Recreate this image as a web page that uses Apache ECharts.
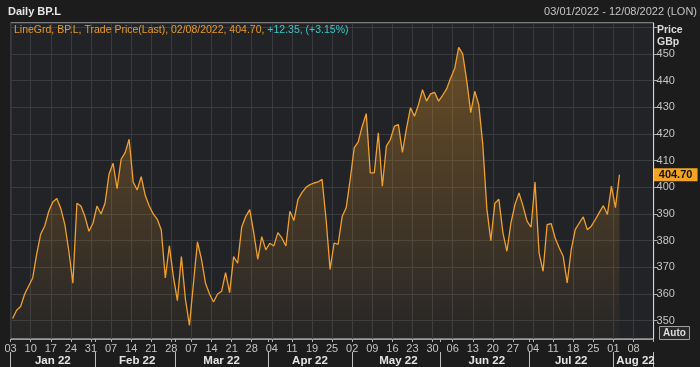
<!DOCTYPE html>
<html><head><meta charset="utf-8">
<script src="https://cdn.jsdelivr.net/npm/echarts@6/dist/echarts.min.js"></script>
<style>html,body{margin:0;padding:0;background:#1c1c1c;}#c{width:700px;height:367px;}</style>
</head><body><div id="c"></div>
<script>
// ---- data ----
const weekLabels = ['03','10','17','24','31','07','14','21','28','07','14','21','28','04','11','19','25','02','09','16','23','30','06','13','20','27','04','11','18','25','01','08'];
const monthLabels = ['Jan 22','Feb 22','Mar 22','Apr 22','May 22','Jun 22','Jul 22','Aug 22'];
const prices = [
350.8,353.9,355.3,360.0,363.0,366.0,375.0,382.5,385.5,391.0,
394.5,395.8,392.0,386.0,376.0,364.0,394.0,393.0,389.0,383.5,
386.5,393.0,390.0,394.0,405.0,409.0,399.5,410.5,413.0,418.0,
402.0,399.0,404.0,397.0,393.0,390.0,388.0,384.0,366.0,378.0,
366.5,357.5,374.0,358.0,348.2,364.0,379.5,373.0,364.0,360.0,
357.0,360.0,361.0,368.0,360.5,374.0,371.5,385.0,389.0,391.6,
383.0,373.0,381.5,376.5,379.0,378.0,383.0,381.0,378.0,391.0,
387.5,395.4,398.0,400.0,401.0,401.6,402.0,403.0,388.0,369.2,
379.1,378.6,389.0,392.3,402.9,414.8,417.0,422.9,427.6,405.4,
405.4,420.4,400.4,415.4,417.9,422.9,423.5,413.1,422.0,429.8,
426.6,431.0,436.6,432.3,435.0,435.6,432.3,434.5,436.9,441.0,
444.5,452.5,450.0,440.0,428.0,436.0,431.0,416.0,392.0,380.0,
394.0,395.5,383.0,376.0,386.6,393.5,397.9,393.0,387.3,385.0,
402.0,375.4,368.5,386.0,386.4,381.0,377.3,374.1,364.1,376.6,
384.1,386.6,388.9,384.1,385.4,387.9,390.6,393.1,389.8,400.4,
392.35,404.7];
const firstDay = [2022, 0, 3];   // first weekday shown
const dayCount = 160;            // weekdays on the axis (to 12/08/2022)

// ---- categories: weekdays ----
const dates = [];
let t = Date.UTC(firstDay[0], firstDay[1], firstDay[2]);
while (dates.length < dayCount) {
  const d = new Date(t); const wd = d.getUTCDay();
  if (wd !== 0 && wd !== 6) dates.push(d.toISOString().slice(0, 10));
  t += 86400000;
}
const monthOf = s => s.slice(0, 7);
const monthStart = dates.map((s, i) => i === 0 || monthOf(s) !== monthOf(dates[i - 1]));
const monthMid = {};
{
  const starts = []; monthStart.forEach((b, i) => { if (b) starts.push(i); });
  starts.forEach((s, k) => {
    const e = (k + 1 < starts.length ? starts[k + 1] : dates.length) - 1;
    monthMid[Math.round((s + e) / 2)] = monthLabels[k];
  });
}
const fmtDate = s => s.slice(8, 10) + '/' + s.slice(5, 7) + '/' + s.slice(0, 4);
const last = prices[prices.length - 1], prev = prices[prices.length - 2];
const chg = last - prev, pct = chg / prev * 100;
const lastDate = dates[prices.length - 1];

const FONT = 'Liberation Sans';
const chart = echarts.init(document.getElementById('c'), null, {renderer: 'canvas'});
chart.setOption({
  backgroundColor: '#1c1c1c',
  animation: false,
  title: [
    {text: 'Daily BP.L', left: 8, top: 6, padding: 0, textStyle: {color: '#e6e6e6', fontSize: 11, fontWeight: 'bold', fontFamily: FONT}},
    {text: fmtDate(dates[0]) + ' - ' + fmtDate(dates[dates.length - 1]) + ' (LON)', right: 3, top: 6, padding: 0,
     textStyle: {color: '#c4c4c4', fontSize: 11, fontWeight: 'normal', fontFamily: FONT}},
    {text: '{a|LineGrd, BP.L, Trade Price(Last), ' + fmtDate(lastDate) + ', ' + last.toFixed(2) + ', }{b|+' + chg.toFixed(2) + ', (+' + pct.toFixed(2) + '%)}',
     left: 14, top: 25, padding: 0,
     textStyle: {fontSize: 10.5, fontWeight: 'normal', fontFamily: FONT,
       rich: {a: {color: '#e89a2e', fontSize: 10.5, fontFamily: FONT}, b: {color: '#3fc6c6', fontSize: 10.5, fontFamily: FONT}}}},
    {text: 'Price\nGBp', left: 657, top: 24, padding: 0, textStyle: {color: '#dcdcdc', fontSize: 10.5, fontWeight: 'bold', lineHeight: 12, fontFamily: FONT}}
  ],
  grid: {left: 10.6, right: 46.4, top: 23, bottom: 27.5, show: true, backgroundColor: '#222326', borderColor: '#d8d8d8', borderWidth: 1, containLabel: false},
  xAxis: [
    {type: 'category', data: dates, boundaryGap: true, position: 'bottom',
     axisLine: {show: true, lineStyle: {color: '#9a9a9a', width: 1}},
     axisTick: {show: true, length: 3, interval: (i) => i % 5 === 0 || monthStart[i], lineStyle: {color: '#b0b0b0'}},
     splitLine: {show: true, interval: (i) => i % 5 === 0, lineStyle: {color: '#393b3f', width: 1}},
     axisLabel: {show: true, interval: (i) => i % 5 === 0, formatter: (v, i) => weekLabels[i / 5] || '',
       color: '#c4c4c4', fontSize: 11, fontFamily: FONT, margin: 4, padding: [0, 4, 0, 0]}},
    {type: 'category', data: dates, boundaryGap: true, position: 'bottom', offset: 13,
     axisLine: {show: false},
     axisTick: {show: true, length: 15, interval: (i) => monthStart[i], lineStyle: {color: '#bdbdbd'}},
     splitLine: {show: false},
     axisLabel: {show: true, interval: (i) => monthMid[i] !== undefined, formatter: (v, i) => monthMid[i] || '',
       color: '#e4e4e4', fontSize: 11.5, fontWeight: 'bold', fontFamily: FONT, margin: 3}}
  ],
  yAxis: {type: 'value', position: 'right', min: 343.1, max: 461.6, minInterval: 10, maxInterval: 10,
    axisLine: {show: true, lineStyle: {color: '#d8d8d8', width: 1}},
    axisTick: {show: true, length: 4, lineStyle: {color: '#aaaaaa'}},
    splitLine: {show: true, lineStyle: {color: '#393b3f', width: 1}},
    axisLabel: {color: '#c4c4c4', fontSize: 11, fontFamily: FONT, margin: 3, showMinLabel: false, showMaxLabel: false,
      formatter: v => (v >= 350 && v <= 450) ? String(v) : ''}},
  series: [{
    type: 'line', data: prices, xAxisIndex: 0, symbol: 'none', smooth: false,
    lineStyle: {color: '#f0a030', width: 1.3},
    areaStyle: {color: new echarts.graphic.LinearGradient(0, 0, 0, 1, [
      {offset: 0, color: 'rgba(235,155,40,0.5)'}, {offset: 1, color: 'rgba(235,155,40,0.03)'}])}
  }],
  graphic: [
    {type: 'group', left: 659, top: 326, children: [
      {type: 'rect', shape: {x: 0, y: 0, width: 30, height: 13}, style: {fill: '#2a2a2a', stroke: '#a0a0a0', lineWidth: 1}},
      {type: 'text', x: 15, y: 7, style: {text: 'Auto', fill: '#dcdcdc', font: 'bold 10px ' + FONT, align: 'center', verticalAlign: 'middle'}}
    ]}
  ]
});
// last-price tag on the price axis, placed through the axis scale
const tagY = chart.convertToPixel({yAxisIndex: 0}, last);
const axisX = chart.convertToPixel({xAxisIndex: 0}, dates[dates.length - 1]) + 2;
chart.setOption({graphic: [
  {type: 'group', left: 659, top: 326, children: [
    {type: 'rect', shape: {x: 0, y: 0, width: 30, height: 13}, style: {fill: '#2a2a2a', stroke: '#a0a0a0', lineWidth: 1}},
    {type: 'text', x: 15, y: 7, style: {text: 'Auto', fill: '#dcdcdc', font: 'bold 10px ' + FONT, align: 'center', verticalAlign: 'middle'}}
  ]},
  {type: 'group', x: axisX, y: tagY, children: [
    {type: 'rect', shape: {x: 0, y: -6.5, width: 44, height: 13}, style: {fill: '#f2a323'}},
    {type: 'text', x: 22, y: 0.5, style: {text: last.toFixed(2), fill: '#111', font: 'bold 11px ' + FONT, align: 'center', verticalAlign: 'middle'}}
  ]}
]});
</script></body></html>
